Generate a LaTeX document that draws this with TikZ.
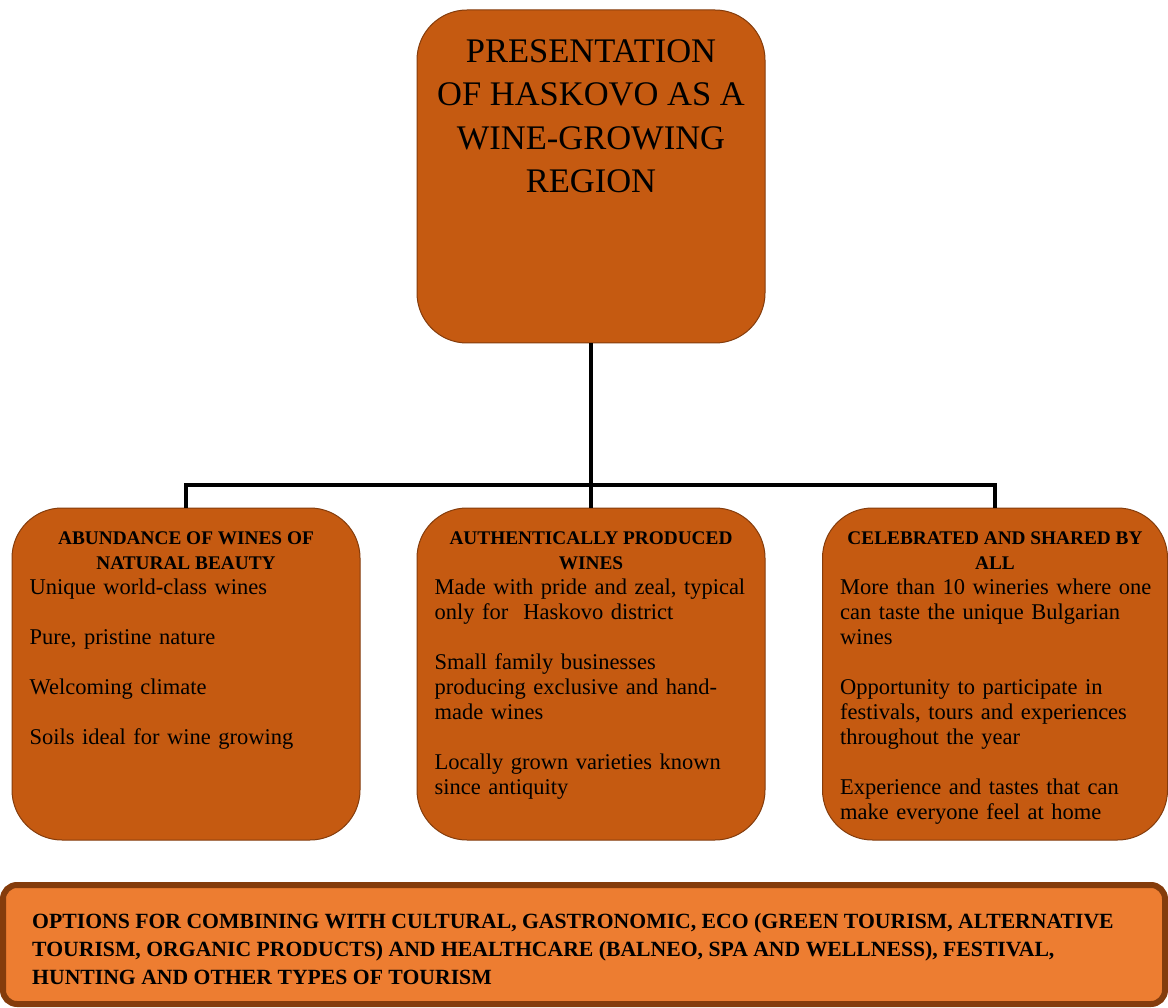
\documentclass[tikz,border=0pt]{standalone}
\usepackage{fontspec}
\setmainfont{Liberation Serif}
\usepackage{tikz}
\definecolor{rust}{HTML}{C55A11}
\definecolor{amber}{HTML}{ED7D31}
\definecolor{rustedge}{HTML}{843C0C}
\tikzstyle{pillar}=[draw=rustedge,fill=rust,line width=1pt,rounded corners=50pt,minimum width=348pt,minimum height=332pt,inner sep=0pt]
\tikzstyle{head}=[font=\bfseries\fontsize{19.3}{25}\selectfont,align=center,inner sep=0pt,anchor=north]
\tikzstyle{body}=[font=\fontsize{22.5}{25}\selectfont,align=left,text width=325pt,inner sep=0pt,anchor=north west]
\tikzstyle{link}=[line width=4.5pt]

\begin{document}
\begin{tikzpicture}[x=1pt,y=-1pt]
  \useasboundingbox (0,0) rectangle (1168,1008);
  \node[pillar,minimum height=333pt] (top) at (591,176.5) {};
  \node[pillar] (abund) at (186,674) {};
  \node[pillar] (auth) at (591,674) {};
  \node[pillar,minimum width=345pt] (celeb) at (995,674) {};
  \node[draw=rustedge,fill=amber,line width=6pt,rounded corners=14pt,
        minimum width=1162pt,minimum height=119pt,inner sep=0pt] (options) at (584,944.5) {};
  \coordinate (hub) at (591,485);
  \draw[link] (top) -- (auth);
  \draw[link] (abund) |- (hub) -| (celeb);
  \node[font=\fontsize{34.5}{43.3}\selectfont,align=center,inner sep=0pt,anchor=north]
    (toptext) at ([yshift=-30pt]top.north)
    {PRESENTATION\\OF HASKOVO AS A\\WINE-GROWING\\REGION};
  \node[head] (abundhead) at ([yshift=-24pt]abund.north) {ABUNDANCE OF WINES OF\\NATURAL BEAUTY};
  \node[body] (abundbody) at ([xshift=18pt,yshift=-71pt]abund.north west)
    {Unique world-class wines\\[25pt]Pure, pristine nature\\[25pt]Welcoming climate\\[25pt]Soils ideal for wine growing};
  \node[head] (authhead) at ([yshift=-24pt]auth.north) {AUTHENTICALLY PRODUCED\\WINES};
  \node[body] (authbody) at ([xshift=18pt,yshift=-71pt]auth.north west)
    {Made with pride and zeal, typical\\only for\ \ Haskovo district\\[25pt]Small family businesses\\producing exclusive and hand-\\made wines\\[25pt]Locally grown varieties known\\since antiquity};
  \node[head] (celebhead) at ([yshift=-24pt]celeb.north) {CELEBRATED AND SHARED BY\\ALL};
  \node[body] (celebbody) at ([xshift=18pt,yshift=-71pt]celeb.north west)
    {More than 10 wineries where one\\can taste the unique Bulgarian\\wines\\[25pt]Opportunity to participate in\\festivals, tours and experiences\\throughout the year\\[25pt]Experience and tastes that can\\make everyone feel at home};
  \node[font=\bfseries\fontsize{21.7}{28}\selectfont,align=left,inner sep=0pt,anchor=north west]
    (optionstext) at ([xshift=32pt,yshift=-31pt]options.north west)
    {OPTIONS FOR COMBINING WITH CULTURAL, GASTRONOMIC, ECO (GREEN TOURISM, ALTERNATIVE\\TOURISM, ORGANIC PRODUCTS) AND HEALTHCARE (BALNEO, SPA AND WELLNESS), FESTIVAL,\\HUNTING AND OTHER TYPES OF TOURISM};
\end{tikzpicture}
\end{document}
